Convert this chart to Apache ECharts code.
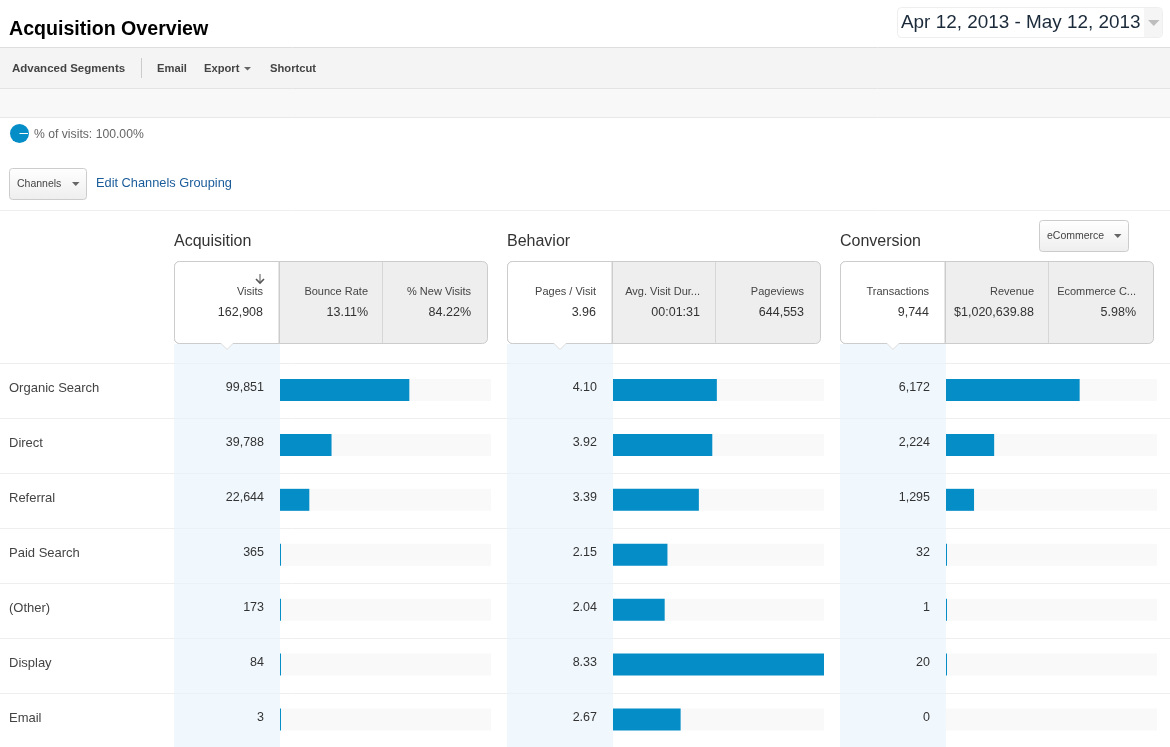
<!DOCTYPE html>
<html><head><meta charset="utf-8">
<style>html,body{margin:0;padding:0;background:#fff;overflow:hidden}#c{width:1170px;height:747px}</style>
<script src="https://cdn.jsdelivr.net/npm/echarts@6/dist/echarts.min.js"></script>
</head><body><div id="c"></div>
<script>
const channels = ['Organic Search','Direct','Referral','Paid Search','(Other)','Display','Email'];
const visits = [99851,39788,22644,365,173,84,3];
const pagesPerVisit = [4.10,3.92,3.39,2.15,2.04,8.33,2.67];
const transactions = [6172,2224,1295,32,1,20,0];
const sectionTitles = ['Acquisition','Behavior','Conversion'];
const acquisitionHeads = ['Visits','Bounce Rate','% New Visits'];
const acquisitionTotals = ['162,908','13.11%','84.22%'];
const behaviorHeads = ['Pages / Visit','Avg. Visit Dur...','Pageviews'];
const behaviorTotals = ['3.96','00:01:31','644,553'];
const conversionHeads = ['Transactions','Revenue','Ecommerce C...'];
const conversionTotals = ['9,744','$1,020,639.88','5.98%'];
const visitsMax = 162908, pagesMax = 8.33, transactionsMax = 9744;

const FONT = 'Arial, "Liberation Sans", sans-serif';
const BLUE = '#058dc7';
const g = [];
const rect = (x,y,w,h,fill,extra={}) => g.push({type:'rect',z:extra.z||1,silent:true,shape:{x,y,width:w,height:h,r:extra.r||0},style:{fill,stroke:extra.stroke||null,lineWidth:extra.stroke?1:0}});
const line = (x1,y1,x2,y2,c,z=1) => g.push({type:'line',z,silent:true,shape:{x1,y1,x2,y2},style:{stroke:c,lineWidth:1}});
const text = (s,x,y,size,color,extra={}) => g.push({type:'text',z:5,silent:true,x,y,style:{text:s,fontSize:size,fill:color,fontFamily:FONT,fontWeight:extra.bold?'bold':'normal',align:extra.align||'left',verticalAlign:'middle'}});
const tri = (pts,c,z=5,stroke) => g.push({type:'polygon',z,silent:true,shape:{points:pts},style:{fill:c,stroke:stroke||null,lineWidth:stroke?1:0}});

// page bands
rect(0,48,1170,40,'#f4f4f4'); rect(0,89,1170,28,'#f8f8f8');
line(0,47.5,1170,47.5,'#dedede'); line(0,88.5,1170,88.5,'#e3e3e3'); line(0,117.5,1170,117.5,'#e8e8e8'); line(0,210.5,1170,210.5,'#eeeeee');
text('Acquisition Overview',9,30,19.6,'#000',{bold:true});
// date box
rect(897.5,7.5,265,30,'#fff',{r:4,stroke:'#eeeeee'});
rect(1144,8,18,29,'#f5f5f5',{r:[0,4,4,0],z:2});
text('Apr 12, 2013 - May 12, 2013',901,22.5,18.9,'#1b2a3a');
tri([[1148,20],[1159.5,20],[1153.75,26]],'#bdbdbd');
// toolbar
text('Advanced Segments',12,68.5,11.5,'#444',{bold:true});
line(141.5,58,141.5,78,'#cccccc');
text('Email',157,68.5,11.2,'#444',{bold:true});
text('Export',204,68.5,11.2,'#444',{bold:true});
tri([[244,67],[251,67],[247.5,70.5]],'#666');
text('Shortcut',270,68.5,11.2,'#444',{bold:true});
// segment
g.push({type:'circle',z:5,silent:true,shape:{cx:19.5,cy:133.5,r:9.5},style:{fill:BLUE}});
line(19.5,133.5,28,133.5,'#fff',6);
text('% of visits: 100.00%',34,134.5,12.2,'#666');
// buttons
const grad = {type:'linear',x:0,y:0,x2:0,y2:1,colorStops:[{offset:0,color:'#ffffff'},{offset:1,color:'#eeeeee'}]};
rect(9.5,168.5,77,31,grad,{r:3,stroke:'#cccccc'});
text('Channels',17,184.5,10.5,'#444');
tri([[72,182],[79.5,182],[75.75,186]],'#666');
text('Edit Channels Grouping',96,183,12.8,'#1a5c9a');
rect(1039.5,220.5,89,31,grad,{r:3,stroke:'#cccccc'});
text('eCommerce',1047,236.5,10.5,'#444');
tri([[1114,234],[1121.5,234],[1117.75,238]],'#666');

// rows
[363,418,473,528,583,638,693].forEach(y=>line(0,y+.5,1170,y+.5,'#eeeeee',1));

// header panels
const panels = [
 {x:174,title:sectionTitles[0],heads:acquisitionHeads,totals:acquisitionTotals,rights:[263,368,471]},
 {x:507,title:sectionTitles[1],heads:behaviorHeads,totals:behaviorTotals,rights:[596,700,804]},
 {x:840,title:sectionTitles[2],heads:conversionHeads,totals:conversionTotals,rights:[929,1034,1136]}
];
panels.forEach(p=>{
  const x=p.x;
  text(p.title,x,241.5,16,'#333');
  g.push({type:'rect',z:2,silent:true,shape:{x,y:344,width:106,height:403},style:{fill:'#f0f7fd'}});
  [363,418,473,528,583,638,693].forEach(y=>line(x,y+.5,x+106,y+.5,'#eaf1f7',2));
  rect(x+.5,261.5,313,82,'#eeeeee',{r:5,stroke:'#cccccc',z:3});
  rect(x+.5,261.5,104.5,82,'#ffffff',{r:[5,0,0,5],stroke:'#cccccc',z:3});
  line(x+105.5,262,x+105.5,343,'#cccccc',4);
  line(x+208.5,262,x+208.5,343,'#d6d6d6',4);
  tri([[x+47,343.5],[x+59,343.5],[x+53,349.5]],'#ffffff',4,null);
  line(x+47,343.5,x+53,349.5,'#dddddd',4); line(x+53,349.5,x+59,343.5,'#dddddd',4);
  line(x+47.5,343.5,x+58.5,343.5,'#ffffff',4);
  p.heads.forEach((h,i)=>{
    text(h,p.rights[i],292,11,'#444',{align:'right'});
    text(p.totals[i],p.rights[i],312.5,12.5,'#333',{align:'right'});
  });
});
// sort arrow
g.push({type:'polyline',z:6,silent:true,shape:{points:[[256,279],[260,283],[264,279]]},style:{stroke:'#555',lineWidth:1.6,fill:null}});
line(260,274,260,283,'#555',6);

const lefts = [280,613,946];
const maxes = [visitsMax,pagesMax,transactionsMax];
const datas = [visits,pagesPerVisit,transactions];
const fmts = [v=>v.toLocaleString('en-US'), v=>v.toFixed(2), v=>v.toLocaleString('en-US')];

const option = {
  animation:false,
  backgroundColor:'#fff',
  textStyle:{fontFamily:FONT},
  grid: lefts.map(l=>({left:l,width:211,top:362.5,height:385,containLabel:false})),
  xAxis: maxes.map((m,i)=>({type:'value',gridIndex:i,min:0,max:m,show:false})),
  yAxis: lefts.map((l,i)=>({
    type:'category',gridIndex:i,inverse:true,data:channels,
    axisLine:{show:false},axisTick:{show:false},splitLine:{show:false},
    axisLabel:{show:i===0,align:'left',margin:271,fontSize:13,color:'#444',fontFamily:FONT,verticalAlign:'bottom',lineHeight:3}
  })),
  series: datas.map((d,i)=>({
    type:'bar',xAxisIndex:i,yAxisIndex:i,z:3,
    barWidth:22,barMinHeight:1,
    showBackground:true,backgroundStyle:{color:'#f9f9f9'},
    itemStyle:{color:BLUE},
    label:{show:true,position:[-16,9],align:'right',verticalAlign:'middle',fontSize:12.5,color:'#333',fontFamily:FONT,
      formatter:p=>fmts[i](p.value)},
    data:d.map(v=>v===0?{value:v,itemStyle:{color:'rgba(0,0,0,0)'}}:v)
  })),
  graphic:{elements:g}
};
echarts.init(document.getElementById('c'),null,{renderer:'canvas'}).setOption(option);
</script></body></html>
